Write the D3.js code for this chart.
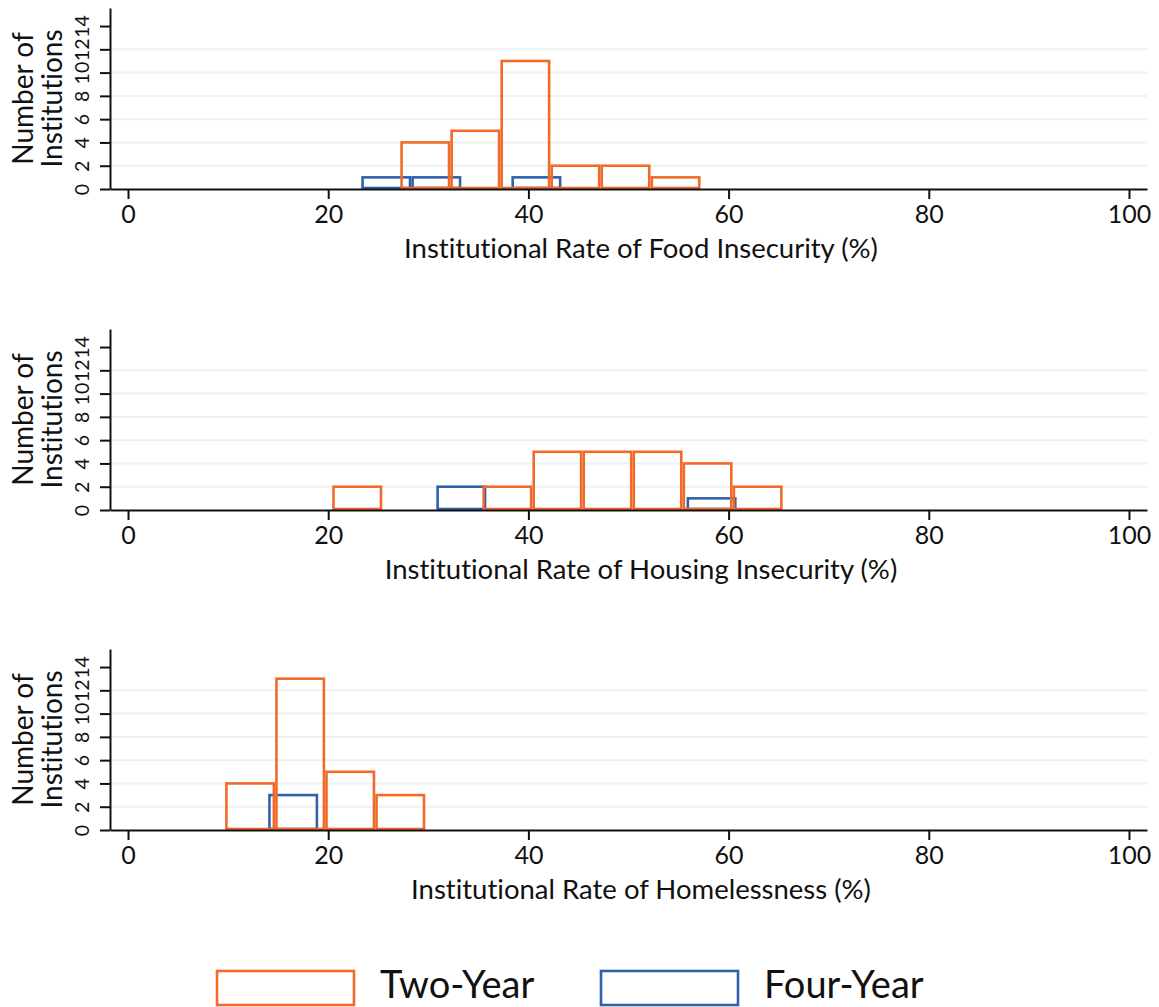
<!DOCTYPE html>
<html>
<head>
<meta charset="utf-8">
<script src="https://cdn.jsdelivr.net/npm/d3@7"></script>
<style>
  body{margin:0;background:#fff;}
  svg text{font-family:Lato,"Open Sans",sans-serif;fill:#111;font-variant-ligatures:none;}
</style>
</head>
<body>
<svg id="chart"></svg>
<script>
var binWidth = 5;

var foodTwoStart = 27.2;
var foodTwo = [4,5,11,2,2,1];
var foodFourStart = 23.3;
var foodFour = [1,1,0,1];

var housingTwoStart = 20.4;
var housingTwo = [2,0,0,2,5,5,5,4,2];
var housingFourStart = 30.8;
var housingFour = [2,0,0,0,0,1];

var homelessTwoStart = 9.7;
var homelessTwo = [4,13,5,3];
var homelessFourStart = 14.0;
var homelessFour = [3];

var xTicks = [0,20,40,60,80,100];
var yTicks = [0,2,4,6,8,10,12,14];
var gridTicks = [2,4,6,8,10,12];

var titles = ["Institutional Rate of Food Insecurity (%)",
              "Institutional Rate of Housing Insecurity (%)",
              "Institutional Rate of Homelessness (%)"];
var legendLabels = ["Two-Year","Four-Year"];

var orange = "#f26a2a";
var blue = "#2f62aa";

function makeBins(start,counts){
  var bins=[];
  counts.forEach(function(c,i){
    if(c>0){
      bins.push({x0:start+i*binWidth,x1:start+(i+1)*binWidth,n:c});
    }
  });
  return bins;
}

var width = 1159;
var height = 1007;
var svg = d3.select("#chart")
            .attr("width",width)
            .attr("height",height);

var xScale = d3.scaleLinear()
               .domain([-1.8,101.8])
               .range([110,1147]);

function drawPanel(top,title,twoBins,fourBins){
  var bottom = top+181;
  var yScale = d3.scaleLinear()
                 .domain([0,15.55])
                 .range([bottom,top]);
  var g = svg.append("g");

  g.selectAll("line.grid")
   .data(gridTicks)
   .enter().append("line")
   .attr("class","grid")
   .attr("x1",111).attr("x2",1147)
   .attr("y1",function(d){return yScale(d);})
   .attr("y2",function(d){return yScale(d);})
   .attr("stroke","#eaf2f3")
   .attr("stroke-width",2);

  [[fourBins,blue],[twoBins,orange]].forEach(function(s){
    g.selectAll(null)
     .data(s[0])
     .enter().append("rect")
     .attr("x",function(d){return xScale(d.x0)+1.3;})
     .attr("width",function(d){return xScale(d.x1)-xScale(d.x0)-2.6;})
     .attr("y",function(d){return yScale(d.n);})
     .attr("height",function(d){return yScale(0)-yScale(d.n)-1;})
     .attr("fill","none")
     .attr("stroke",s[1])
     .attr("stroke-width",2.6);
  });

  var xAxis = d3.axisBottom(xScale)
                .tickValues(xTicks)
                .tickSize(10)
                .tickPadding(6)
                .tickSizeOuter(0);
  var ax = g.append("g")
            .attr("transform","translate(0,"+bottom+")")
            .call(xAxis);
  ax.select(".domain").attr("stroke","#111").attr("stroke-width",2);
  ax.selectAll(".tick line").attr("stroke","#111").attr("stroke-width",2);
  ax.selectAll(".tick text").attr("font-size",25).attr("fill","#111")
    .attr("font-family","Lato");

  var yAxis = d3.axisLeft(yScale)
                .tickValues(yTicks)
                .tickSize(10)
                .tickSizeOuter(0)
                .tickFormat(d3.format("d"));
  var ay = g.append("g")
            .attr("transform","translate(110,0)")
            .call(yAxis);
  ay.select(".domain").attr("stroke","#111").attr("stroke-width",2);
  ay.selectAll(".tick line").attr("stroke","#111").attr("stroke-width",2);
  ay.selectAll(".tick text")
    .attr("font-size",19.5).attr("fill","#111").attr("font-family","Lato")
    .attr("x",null).attr("dy",null)
    .attr("text-anchor","middle")
    .attr("transform","translate(-21,0) rotate(-90)");

  var mid = (top+bottom)/2;
  ["Number of","Institutions"].forEach(function(t,i){
    g.append("text")
     .attr("transform","translate("+(33+i*29)+","+mid+") rotate(-90)")
     .attr("text-anchor","middle")
     .attr("font-size",28)
     .text(t);
  });

  g.append("text")
   .attr("x",641)
   .attr("y",bottom+69)
   .attr("text-anchor","middle")
   .attr("font-size",27.5)
   .text(title);
}

drawPanel(8,titles[0],makeBins(foodTwoStart,foodTwo),makeBins(foodFourStart,foodFour));
drawPanel(329,titles[1],makeBins(housingTwoStart,housingTwo),makeBins(housingFourStart,housingFour));
drawPanel(649,titles[2],makeBins(homelessTwoStart,homelessTwo),makeBins(homelessFourStart,homelessFour));

// legend
var legend = svg.append("g");
[orange,blue].forEach(function(c,i){
  var lx = 217+i*384;
  legend.append("rect")
        .attr("x",lx).attr("y",971)
        .attr("width",137).attr("height",34)
        .attr("fill","none")
        .attr("stroke",c)
        .attr("stroke-width",2.6);
  legend.append("text")
        .attr("x",lx+163).attr("y",998)
        .attr("font-size",38)
        .text(legendLabels[i]);
});
</script>
</body>
</html>
